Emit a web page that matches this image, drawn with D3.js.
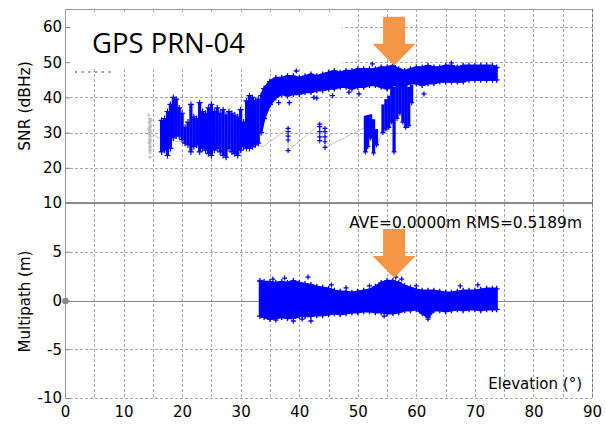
<!DOCTYPE html>
<html><head><meta charset="utf-8">
<script src="https://cdn.jsdelivr.net/npm/d3@7/dist/d3.min.js"></script>
<style>body{margin:0;background:#fff}svg{display:block}</style>
</head><body>
<svg id="c" width="606" height="427"></svg>
<script>
// ---------- tick labels ----------
const elevTicks = [0,10,20,30,40,50,60,70,80,90];
const snrTicks = [10,20,30,40,50,60];
const snrGrid = [20,30,40,50,60];
const mpTicks = [-10,-5,0,5];
const mpGrid = [-10,-5,5];

// ---------- SNR: low-elevation spiky region (column min/max) ----------
const spikeElev = [16.5,17,17.5,18,18.5,19,19.5,20,20.5,21,21.5,22,22.5,23,23.5,24,24.5,25,25.5,26,26.5,27,27.5,28,28.5,29,29.5,30,30.5,31,31.5,32,32.5,33];
const spikeHigh = [33.5,34,36,38,40,39.5,37,35.5,31.5,33,38,34.5,34,38.5,36,35.5,37,38,36,37,35.5,36.5,35,36,35.5,35,34.5,36.5,33,39,40.5,40,39,39.5];
const spikeLow  = [24.5,25,23.5,25.5,28.5,29,29,28,27,26.5,24.5,26,26.5,24.5,25.5,25,24,23.5,25,25.5,24.5,23.5,23,25.5,24.5,24,23.5,25,26,25.5,25.5,26,26.5,27];

// ---------- SNR: main band ----------
const bandElev = [33.5,34,35,36,37,38,39,40,41,42,43,44,45,46,47,48,49,50,51,52,53,54,55,56,57,58,59,60,61,62,63,64,65,66,67,68,69,70,71,72,73,73.7];
const bandHigh = [40.5,42.5,44.5,45.5,45.5,46,46,45.5,46,46.5,46,46.5,47,47.5,47,47.5,47.5,48,48,48,48,48.5,48.5,49,48,47.5,48,48.5,48.5,49,48.5,48.5,49,49,48.5,49,49,49,49,49,49,48.5];
const bandLow  = [30,34,38,40,41,40.5,41,41,41.5,41.5,42,42,42.5,42.5,43,43,42.5,43,43,43.5,43.5,43,42.5,43.5,43.5,43.5,44,44,43.5,44,44,44.5,44.5,44.5,44.5,44.5,45,45,45,45,45,45];
const snrOutElev = [36.5,38.3,42.5,43,45.7,48.5,50.2,61.3,39.5,52.5,66];
const snrOutVal  = [38.5,38.5,40,39.8,40.5,41.5,41,41,47.5,49.5,49.8];

// ---------- SNR: lower branch clusters ----------
const branchElev = [51.3,51.7,52.2,52.7,53.2,54.3,54.8,55.3,55.8,56.2,56.7,57.2,57.7,58.2,58.7,59.2];
const branchLow  = [24.5,26,28.5,24.2,26.5,30,31,31.5,33,24.5,34,35.5,33,31.5,32,38.5];
const branchHigh = [34.8,35,35.2,33.8,31,38,39.5,40.5,43,43,44,44,44,43.5,43,43.5];

// ---------- SNR: sparse points ----------
const sparseElev = [38.1,38.1,38.1,38.1,38.1,43.5,43.5,43.5,43.5,43.5,44.4,44.4,44.4,44.4,44.4];
const sparseSnr  = [31.2,30.3,29,27.9,24.9,32.4,31.7,30.3,28.8,27.7,31.2,30.3,28.8,27.4,25.8];

// ---------- SNR: grey trace & grey cluster ----------
const traceElev = [14.5,16.6,22,24,26,29,30.5,33.8,38.1,38.1,43.5,43.5,44.4,44.4,51.5,53.4,54.4];
const traceSnr  = [30,28,27,28.5,27.5,27,28,26,31.2,24.9,32.4,27.7,31.2,25.8,31.7,26.4,31.5];
const greyElev = [14.3,14.5,14.7,14.4,14.6,14.5,14.3,14.6,14.5,14.4,14.6,14.5,14.5,14.4,14.6,14.5,14.5];
const greySnr  = [35,34,33.5,33,32,31.5,31,30.5,30,29.5,29,28,27.5,27,26,25,23];

// ---------- Multipath band ----------
const mpElev = [33.3,34,35,36,37,38,39,40,41,42,43,44,45,46,47,48,49,50,51,52,53,54,55,56,57,58,59,60,61,62,63,64,65,66,67,68,69,70,71,72,73,73.7];
const mpHigh = [2.0,1.9,1.9,1.8,1.9,1.8,2.0,1.8,1.7,1.6,1.4,1.3,1.2,1.0,0.9,0.9,0.8,0.9,1.0,1.1,1.4,1.8,2.0,2.0,1.8,1.5,1.3,1.1,1.0,1.0,1.0,0.9,0.8,0.8,0.9,1.0,1.0,1.0,1.1,1.2,1.2,1.2];
const mpLow  = [-1.6,-1.7,-1.9,-1.8,-1.7,-1.8,-1.8,-1.6,-1.6,-1.6,-1.5,-1.5,-1.4,-1.3,-1.4,-1.3,-1.2,-1.2,-1.1,-1.1,-1.2,-1.2,-1.3,-1.3,-1.2,-1.0,-1.0,-0.9,-1.3,-1.7,-1.0,-1.0,-1.1,-1.0,-0.9,-1.0,-0.9,-0.9,-1.0,-0.9,-0.9,-0.9];
const mpOutElev = [35.5,37.5,41.5,39,42,45.5,48,36,40.5,52,56.5,57.5,60,62,67.5,54.5,70.5];
const mpOutVal  = [2.2,2.3,2.4,-2.1,-2.1,1.6,1.3,-2.0,-1.9,1.5,2.4,2.2,1.5,-1.9,1.5,-1.6,1.6];

// ---------- annotations ----------
const arrowElev = [56.2, 56.2];
const arrowSnrTip = 49;
const arrowMpTip = 2.3;
const titleText = "GPS PRN-04";
const statsText = "AVE=0.0000m RMS=0.5189m";

// ================= drawing =================
const svg = d3.select('#c');
const L = 65, R = 592;
const x  = d3.scaleLinear().domain([0,90]).range([L,R]);
const yS = d3.scaleLinear().domain([10,65]).range([203,9.4]);
const yM = d3.scaleLinear().domain([-10,10]).range([398,203]);
const BLUE = '#0000ff', ORANGE = '#f79646';
const cr = v => Math.round(v) + 0.5;

// grid
const grid = svg.append('g').attr('stroke','#a8a8a8').attr('stroke-width',1).attr('stroke-dasharray','3,2').attr('fill','none');
x.ticks(18).filter(d => d > 0 && d < 90).forEach(d => {
  grid.append('line').attr('x1',cr(x(d))).attr('x2',cr(x(d))).attr('y1',9).attr('y2',398);
});
snrGrid.forEach(d => grid.append('line').attr('x1',L).attr('x2',R).attr('y1',cr(yS(d))).attr('y2',cr(yS(d))));
mpGrid.forEach(d => grid.append('line').attr('x1',L).attr('x2',R).attr('y1',cr(yM(d))).attr('y2',cr(yM(d))));

// title box (hides grid behind title)
svg.append('rect').attr('x',66).attr('y',12).attr('width',276).attr('height',56).attr('fill','#fff');
svg.append('line').attr('x1',75).attr('x2',113).attr('y1',72).attr('y2',72)
  .attr('stroke','#223').attr('stroke-width',1.2).attr('stroke-dasharray','2,4.7');

// zero line in multipath panel
svg.append('line').attr('x1',L).attr('x2',R).attr('y1',cr(yM(0))).attr('y2',cr(yM(0))).attr('stroke','#888').attr('stroke-width',1.2);

// plus-marker helper
const plus = (px,py,s=2.5) => `M${px-s},${py}h${2*s}M${px},${py-s}v${2*s}`;

// grey trace
svg.append('path').attr('d', d3.line().x((d,i)=>x(traceElev[i])).y((d,i)=>yS(traceSnr[i]))(traceElev))
  .attr('fill','none').attr('stroke','#c4c4c4').attr('stroke-width',1);
// grey cluster
svg.append('rect').attr('x',x(14.5)-1.5).attr('width',3).attr('y',yS(34)).attr('height',yS(24)-yS(34)).attr('fill','#cfcfcf');
svg.append('path').attr('d', greyElev.map((e,i)=>plus(x(e),yS(greySnr[i]),2)).join(''))
  .attr('stroke','#bdbdbd').attr('stroke-width',1).attr('fill','none');

const dataG = svg.append('g');
// spiky columns
spikeElev.forEach((e,i) => {
  dataG.append('rect').attr('x',x(e)-1.6).attr('width',3.2)
    .attr('y',yS(spikeHigh[i])).attr('height',yS(spikeLow[i])-yS(spikeHigh[i])).attr('fill',BLUE);
});
dataG.append('path').attr('d', spikeElev.map((e,i)=>plus(x(e),yS(spikeHigh[i]),3)+plus(x(e),yS(spikeLow[i]),3)).join(''))
  .attr('stroke',BLUE).attr('stroke-width',1.2).attr('fill','none');

// main band
const bandArea = d3.area().x((d,i)=>x(bandElev[i])).y0((d,i)=>yS(bandLow[i])).y1((d,i)=>yS(bandHigh[i]));
dataG.append('path').attr('d', bandArea(bandElev)).attr('fill',BLUE).attr('stroke',BLUE).attr('stroke-width',2.5);
dataG.append('path').attr('d', bandElev.map((e,i)=>plus(x(e),yS(bandHigh[i]),3)+plus(x(e),yS(bandLow[i]),3)).join('')
    + snrOutElev.map((e,i)=>plus(x(e),yS(snrOutVal[i]))).join(''))
  .attr('stroke',BLUE).attr('stroke-width',1.3).attr('fill','none');

// branch clusters
branchElev.forEach((e,i) => {
  dataG.append('rect').attr('x',x(e)-1.6).attr('width',3.2)
    .attr('y',yS(branchHigh[i])).attr('height',yS(branchLow[i])-yS(branchHigh[i])).attr('fill',BLUE);
});
dataG.append('path').attr('d', branchElev.map((e,i)=>plus(x(e),yS(branchLow[i]))).join('')
    + sparseElev.map((e,i)=>plus(x(e),yS(sparseSnr[i]))).join(''))
  .attr('stroke',BLUE).attr('stroke-width',1.2).attr('fill','none');

// multipath band
const mpArea = d3.area().x((d,i)=>x(mpElev[i])).y0((d,i)=>yM(mpLow[i])).y1((d,i)=>yM(mpHigh[i]));
dataG.append('path').attr('d', mpArea(mpElev)).attr('fill',BLUE).attr('stroke',BLUE).attr('stroke-width',2.5);
dataG.append('path').attr('d', mpElev.map((e,i)=>plus(x(e),yM(mpHigh[i]),3)+plus(x(e),yM(mpLow[i]),3)).join('')
    + mpOutElev.map((e,i)=>plus(x(e),yM(mpOutVal[i]))).join(''))
  .attr('stroke',BLUE).attr('stroke-width',1.3).attr('fill','none');

// arrows
function arrow(tx, ty) {
  return `M${tx-11},${ty-49}H${tx+11}V${ty-22}H${tx+21.5}L${tx},${ty}L${tx-21.5},${ty-22}H${tx-11}Z`;
}
svg.append('path').attr('d', arrow(x(arrowElev[0]), yS(arrowSnrTip))).attr('fill',ORANGE);
svg.append('path').attr('d', arrow(x(arrowElev[1]), yM(arrowMpTip))).attr('fill',ORANGE);

// frame
const fr = svg.append('g').attr('fill','none');
fr.append('line').attr('x1',L).attr('x2',R).attr('y1',9.5).attr('y2',9.5).attr('stroke','#999');
fr.append('line').attr('x1',65.5).attr('x2',65.5).attr('y1',9).attr('y2',398).attr('stroke','#999');
fr.append('line').attr('x1',R+0.5).attr('x2',R+0.5).attr('y1',9).attr('y2',398).attr('stroke','#c8c8c8');
fr.append('line').attr('x1',R+0.5).attr('x2',R+0.5).attr('y1',9).attr('y2',398).attr('stroke','#777').attr('stroke-dasharray','3,2');
fr.append('line').attr('x1',L).attr('x2',R+1).attr('y1',203).attr('y2',203).attr('stroke','#8c8c8c').attr('stroke-width',2);
svg.append('circle').attr('cx',L+0.5).attr('cy',yM(0)+0.5).attr('r',3.3).attr('fill','#888');

// axes
const FONT = 'DejaVu Sans';
const fmt = d => String(d);
function styleAxis(g){
  g.select('.domain').remove();
  g.selectAll('line').attr('stroke','#888');
  g.selectAll('text').attr('font-family',FONT).attr('font-size',15).attr('fill','#000');
}
svg.append('g').attr('transform',`translate(${L},0)`)
  .call(d3.axisLeft(yS).tickValues(snrTicks).tickFormat(fmt).tickSize(-5).tickPadding(3)).call(styleAxis);
svg.append('g').attr('transform',`translate(${L},0)`)
  .call(d3.axisLeft(yM).tickValues(mpTicks).tickFormat(fmt).tickSize(-5).tickPadding(3)).call(styleAxis);
svg.append('g').attr('transform','translate(0,398)')
  .call(d3.axisBottom(x).tickValues(elevTicks).tickFormat(fmt).tickSize(0).tickPadding(8)).call(styleAxis);

// texts
function fit(t, w){ const l = t.node().getComputedTextLength(); const fs = parseFloat(t.attr('font-size')); t.attr('font-size', fs*w/l); }
const title = svg.append('text').attr('x',92).attr('y',53).attr('font-family','Open Sans').attr('font-size',26).attr('fill','#000').text(titleText);
fit(title,153);
const stats = svg.append('text').attr('x',582).attr('y',228).attr('text-anchor','end').attr('font-family',FONT).attr('font-size',15).attr('fill','#000').text(statsText);
fit(stats,233);
svg.append('text').attr('x',582).attr('y',389).attr('text-anchor','end').attr('font-family',FONT).attr('font-size',15).attr('fill','#000').text('Elevation (°)');
svg.append('text').attr('transform','translate(30,106) rotate(-90)').attr('text-anchor','middle').attr('font-family',FONT).attr('font-size',15.5).attr('fill','#000').text('SNR (dBHz)');
svg.append('text').attr('transform','translate(30,301.5) rotate(-90)').attr('text-anchor','middle').attr('font-family',FONT).attr('font-size',15).attr('fill','#000').text('Multipath (m)');
</script>
</body></html>
